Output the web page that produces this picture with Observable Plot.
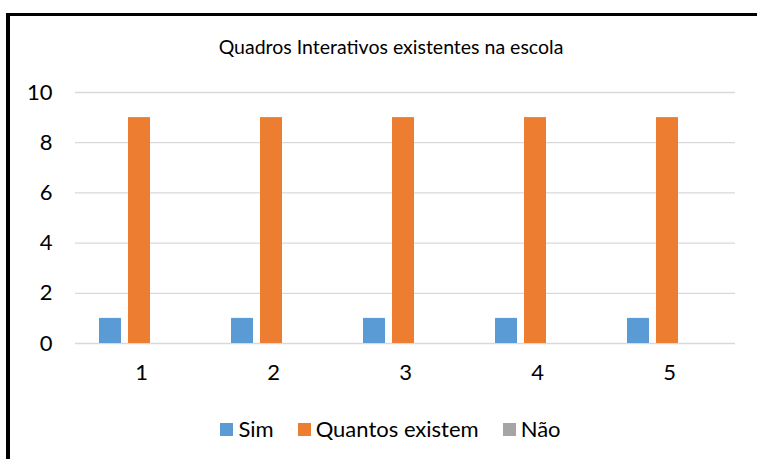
<!DOCTYPE html>
<html>
<head>
<meta charset="utf-8">
<script src="https://cdn.jsdelivr.net/npm/d3@7"></script>
<script src="https://cdn.jsdelivr.net/npm/@observablehq/plot@0.6"></script>
<style>
  html, body { margin: 0; padding: 0; background: #fff; }
  body { width: 757px; height: 459px; position: relative; overflow: hidden; font-family: Lato, "Noto Sans", sans-serif; }
  #frame { position: absolute; left: 6px; top: 13px; width: 800px; height: 500px; border-top: 3px solid #000; border-left: 4px solid #000; box-sizing: border-box; }
  #title { position: absolute; left: 0; width: 782px; top: 35px; text-align: center; font-size: 19.5px; line-height: 24px; color: #000; }
  #chart { position: absolute; left: 0; top: 0; }
  #legend { position: absolute; left: 0; width: 781px; top: 415px; display: flex; justify-content: center; gap: 24px; font-size: 22px; line-height: 28px; color: #000; }
  .item { display: flex; align-items: center; gap: 5px; }
  .sw { width: 13px; height: 13px; display: inline-block; }
</style>
</head>
<body>
<div id="frame"></div>
<div id="chart"></div>
<div id="title">Quadros Interativos existentes na escola</div>
<div id="legend"></div>
<script>
const categories = ["1", "2", "3", "4", "5"];
const series = ["Sim", "Quantos existem", "Não"];
const sim = [1, 1, 1, 1, 1];
const quantos = [9, 9, 9, 9, 9];
const nao = [0, 0, 0, 0, 0];
const yTicks = [0, 2, 4, 6, 8, 10];
const colors = ["#5B9BD5", "#ED7D31", "#A5A5A5"];

const values = [sim, quantos, nao];
const data = categories.flatMap((c, i) => series.map((s, j) => ({cat: c, series: s, value: values[j][i]})));

const chart = Plot.plot({
  width: 757,
  height: 400,
  marginLeft: 73,
  marginRight: 21,
  marginTop: 92,
  marginBottom: 57,
  fx: {domain: categories, padding: 0, label: null, axis: "bottom", tickSize: 0, tickPadding: 21},
  x: {domain: series, paddingInner: 0.233, paddingOuter: 0.827, align: 0.46, axis: null},
  y: {domain: [0, 10], ticks: yTicks, tickSize: 0, tickPadding: 23, label: null},
  color: {domain: series, range: colors},
  style: {fontFamily: "Lato, 'Noto Sans', sans-serif", fontSize: "22px", color: "#000", background: "transparent", overflow: "visible"},
  marks: [
    Plot.gridY(yTicks, {stroke: "#D9D9D9", strokeOpacity: 1, strokeWidth: 1.3}),
    Plot.barY(data, {fx: "cat", x: "series", y: "value", fill: "series"})
  ]
});
document.getElementById("chart").appendChild(chart);

const legend = d3.select("#legend");
series.forEach((s, j) => {
  const it = legend.append("div").attr("class", "item");
  it.append("span").attr("class", "sw").style("background", colors[j]);
  it.append("span").text(s);
});
</script>
</body>
</html>
